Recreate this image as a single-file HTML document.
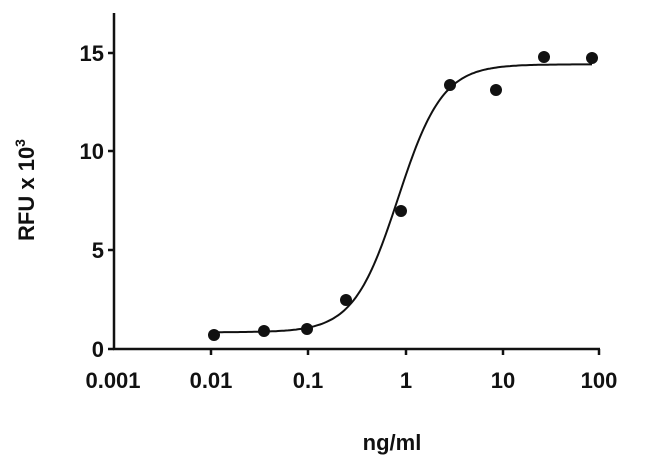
<!DOCTYPE html>
<html><head><style>body{margin:0;background:#fff}svg{display:block}text{font-family:"Liberation Sans",sans-serif;font-weight:bold;fill:#111}</style></head>
<body>
<svg id="s" width="650" height="466" xmlns="http://www.w3.org/2000/svg">
<g stroke="#111" stroke-width="2.5" fill="none">
<line x1="114" y1="13" x2="114" y2="349"/>
<line x1="113" y1="349" x2="600" y2="349"/>
<line x1="108" y1="53" x2="114" y2="53"/>
<line x1="108" y1="151" x2="114" y2="151"/>
<line x1="108" y1="250" x2="114" y2="250"/>
<line x1="108" y1="349" x2="114" y2="349"/>
<line x1="211" y1="349" x2="211" y2="355"/>
<line x1="308" y1="349" x2="308" y2="355"/>
<line x1="406" y1="349" x2="406" y2="355"/>
<line x1="503" y1="349" x2="503" y2="355"/>
<line x1="599" y1="349" x2="599" y2="355"/>
<path id="c" stroke-width="2"/>
</g>
<g font-size="22" text-anchor="end">
<text x="104" y="61">15</text><text x="104" y="159">10</text><text x="104" y="258">5</text><text x="104" y="357">0</text>
</g>
<g font-size="22" text-anchor="middle">
<text x="113" y="388">0.001</text><text x="211" y="388">0.01</text><text x="308" y="388">0.1</text><text x="406" y="388">1</text><text x="503" y="388">10</text><text x="599" y="388">100</text>
<text x="392" y="450">ng/ml</text>
<text transform="translate(34,190) rotate(-90)">RFU x 10<tspan font-size="14" dy="-9">3</tspan></text>
</g>
<g fill="#111">
<circle cx="214" cy="335" r="6"/><circle cx="264" cy="331" r="6"/><circle cx="307" cy="329" r="6"/>
<circle cx="346" cy="300" r="6"/><circle cx="401" cy="211" r="6"/><circle cx="450" cy="85" r="6"/>
<circle cx="496" cy="90" r="6"/><circle cx="544" cy="57" r="6"/><circle cx="592" cy="58" r="6"/>
</g>
</svg>
<script>
var d="";for(var x=214;x<=592;x+=2){var lx=(x-113)/97.3-3;var v=0.85+13.6/(1+Math.pow(10,(Math.log10(0.85)-lx)*1.9));var y=349-v*19.7;d+=(d?"L":"M")+x+","+y.toFixed(1);}
document.getElementById("c").setAttribute("d",d);
</script>
</body></html>
